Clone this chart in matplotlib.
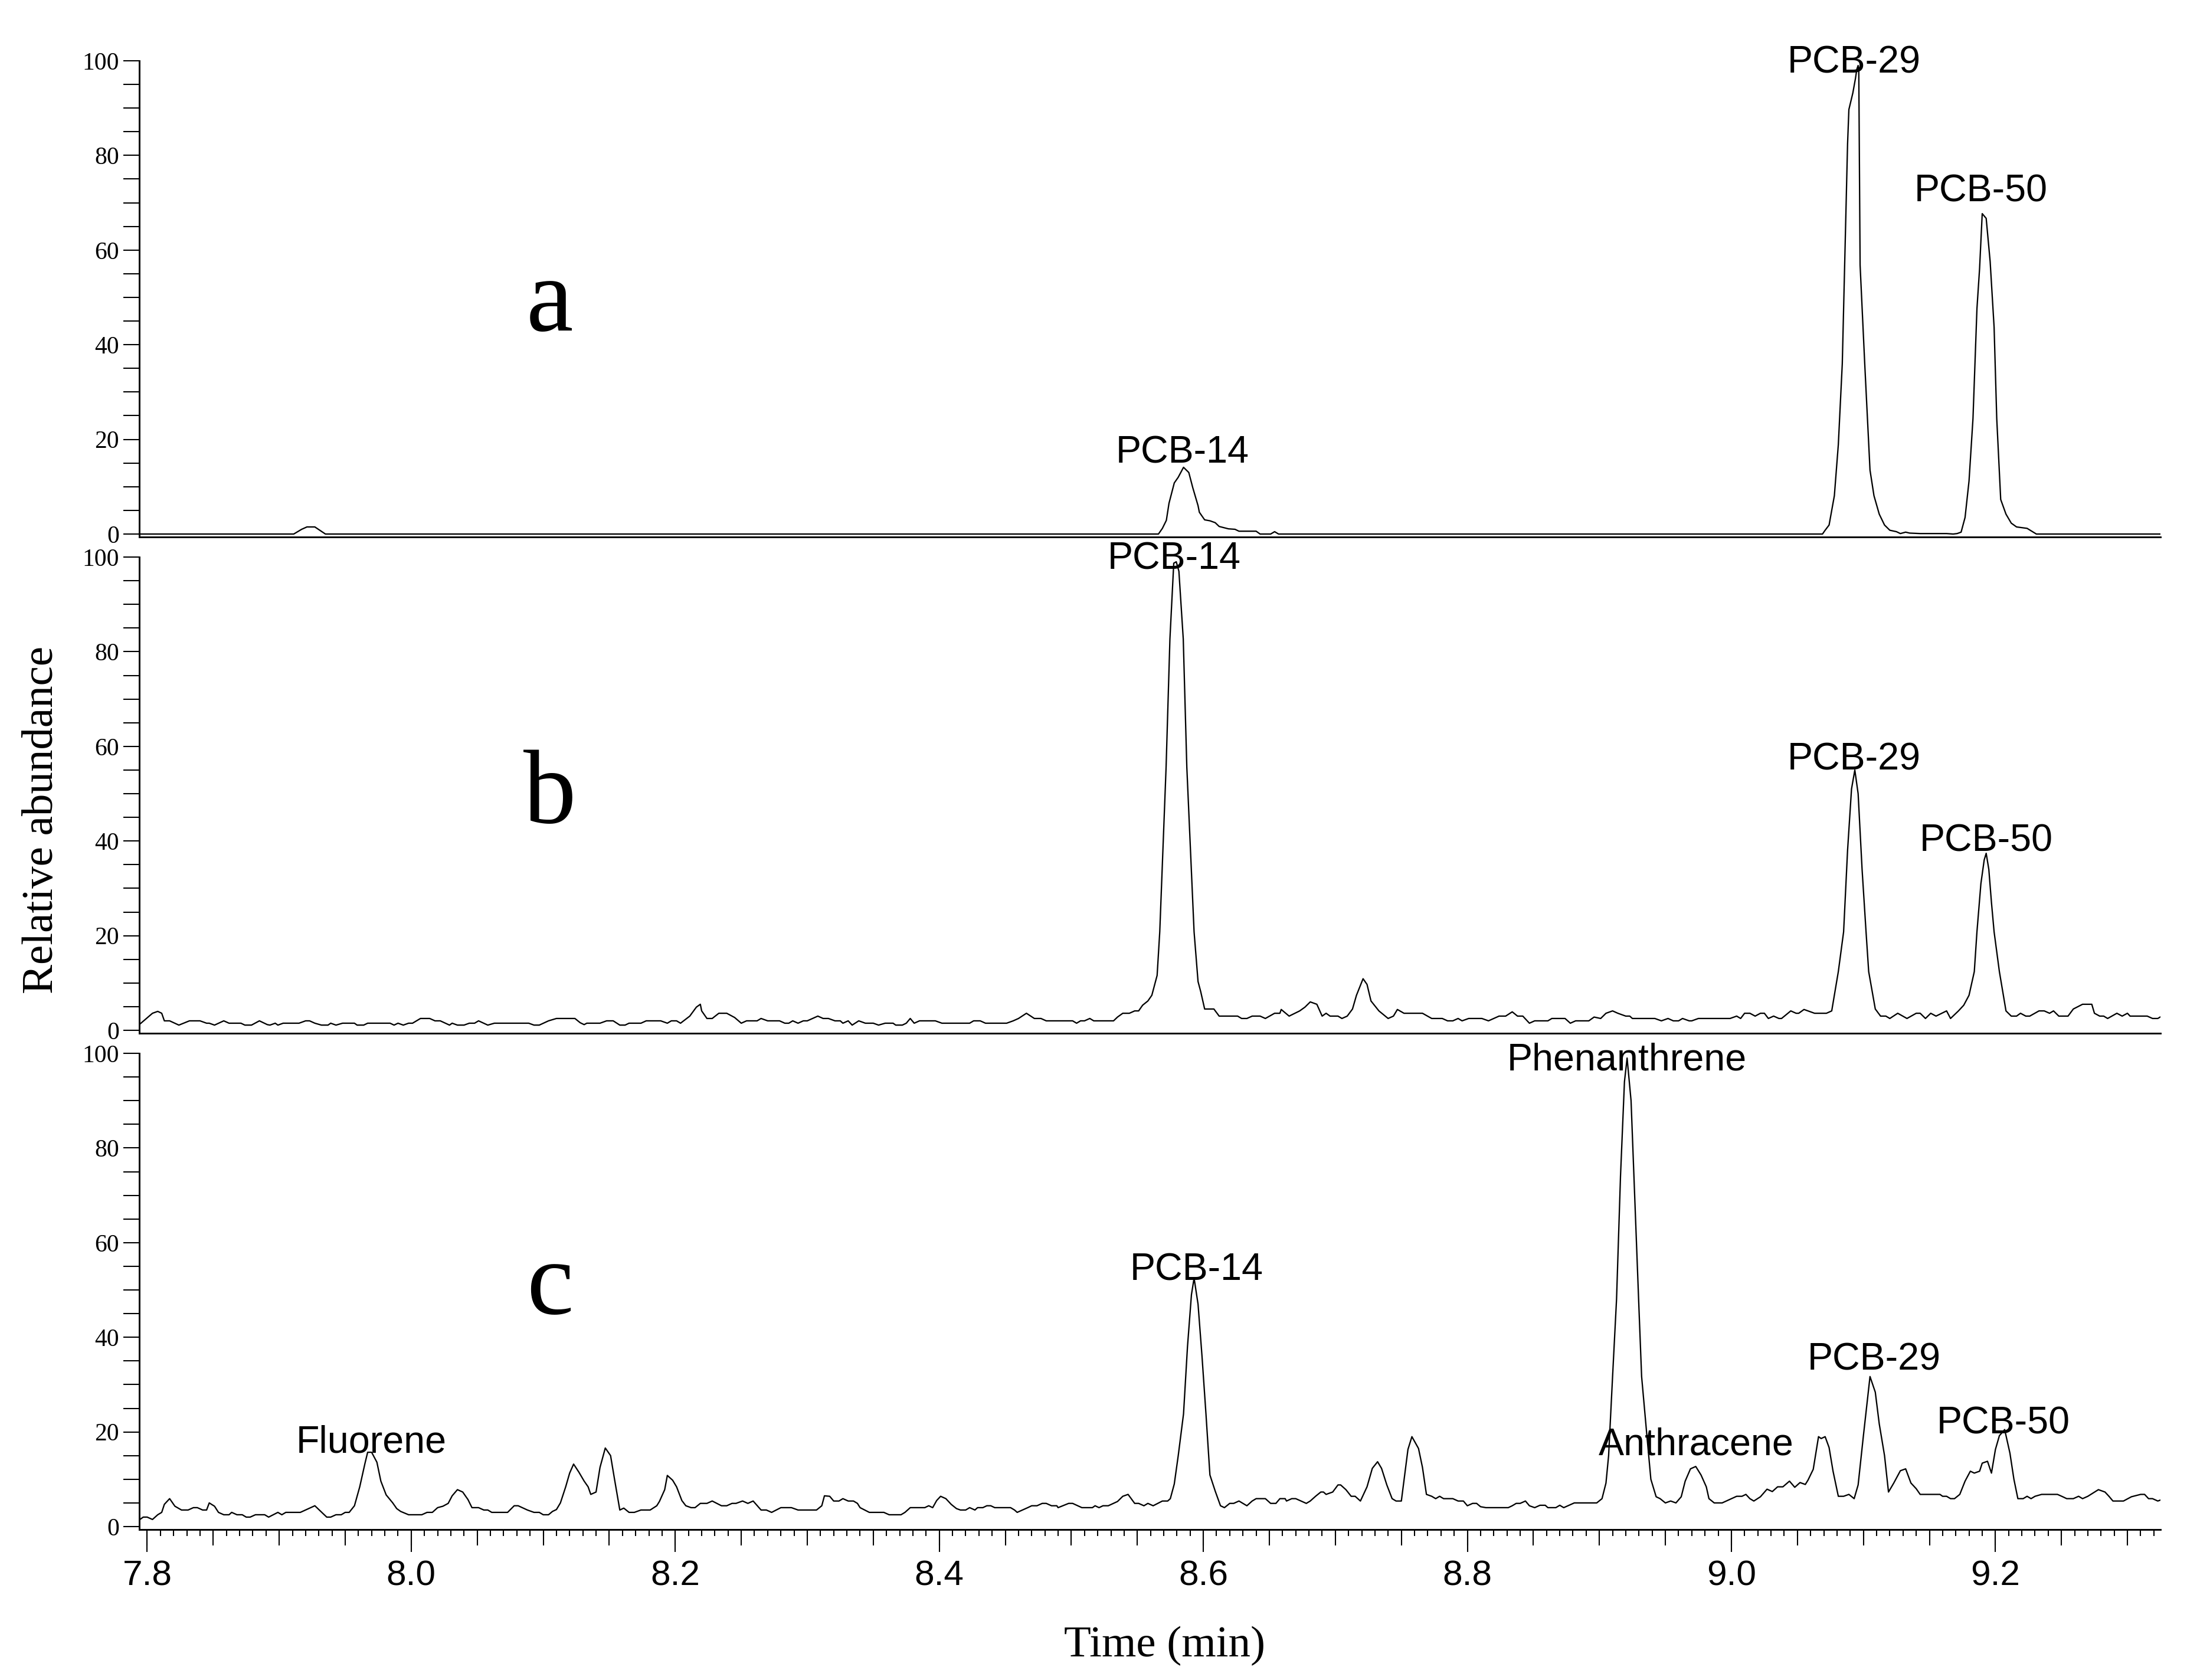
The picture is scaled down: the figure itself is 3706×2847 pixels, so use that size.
"""
Stacked GC-MS chromatograms (panels a, b, c) with labelled peaks.
"""

import matplotlib
matplotlib.use('Agg')
import matplotlib.pyplot as plt
from matplotlib.ticker import MultipleLocator, FormatStrFormatter

# ---------------------------------------------------------------- data
# panel a
a_time = [7.794, 7.911, 7.917, 7.921, 7.927, 7.935,
          8.566, 8.569, 8.572, 8.574, 8.578, 8.581, 8.585, 8.589, 8.592, 8.596,
          8.597, 8.601, 8.605, 8.609, 8.612, 8.619, 8.624, 8.627, 8.640, 8.643,
          8.651, 8.654, 8.657,
          9.069, 9.071, 9.074, 9.078, 9.081, 9.084, 9.086, 9.088, 9.089, 9.092,
          9.094, 9.095, 9.096, 9.0965, 9.0975, 9.101, 9.105, 9.108, 9.112, 9.116,
          9.120, 9.125, 9.128, 9.132, 9.135, 9.143, 9.163, 9.168, 9.171, 9.174,
          9.177, 9.180, 9.183, 9.186, 9.188, 9.190, 9.193, 9.196, 9.199, 9.201,
          9.204, 9.208, 9.212, 9.216, 9.224, 9.231, 9.325]
a_abund = [0.0, 0.0, 1.0, 1.5, 1.5, 0.0,
           0.0, 1.2, 2.9, 6.5, 10.8, 12.0, 14.1, 13.0, 9.8, 6.0,
           4.6, 3.0, 2.8, 2.4, 1.6, 1.1, 1.0, 0.6, 0.6, 0.0,
           0.0, 0.5, 0.0,
           0.0, 0.8, 1.9, 8.1, 18.9, 36.0, 59.2, 82.4, 89.7, 93.2,
           96.3, 98.2, 99.0, 97.8, 56.8, 36.0, 13.5, 8.1, 4.2, 1.9,
           0.8, 0.5, 0.1, 0.4, 0.2, 0.1, 0.1, 0.0, 0.1, 0.4,
           3.5, 11.2, 24.4, 47.6, 56.1, 67.7, 66.7, 57.6, 43.7, 24.4,
           7.3, 4.2, 2.3, 1.5, 1.2, 0.0, 0.0]

# panel b
b_time = [7.794, 7.799, 7.804, 7.808, 7.811, 7.813, 7.817, 7.824, 7.832, 7.840,
          7.845, 7.847, 7.851, 7.858, 7.862, 7.871, 7.874, 7.879, 7.885, 7.891,
          7.893, 7.897, 7.899, 7.903, 7.915, 7.920, 7.923, 7.927, 7.932, 7.937,
          7.939, 7.943, 7.948, 7.957, 7.959, 7.964, 7.967, 7.984, 7.987, 7.990,
          7.994, 7.998, 8.001, 8.007, 8.014, 8.018, 8.022, 8.029, 8.031, 8.035,
          8.040, 8.044, 8.048, 8.051, 8.058, 8.063, 8.089, 8.093, 8.097, 8.104,
          8.110, 8.124, 8.128, 8.131, 8.133, 8.143, 8.148, 8.153, 8.158, 8.162,
          8.165, 8.174, 8.178, 8.189, 8.194, 8.197, 8.201, 8.204, 8.211, 8.216,
          8.219, 8.220, 8.224, 8.228, 8.233, 8.239, 8.245, 8.250, 8.254, 8.262,
          8.265, 8.270, 8.279, 8.283, 8.286, 8.289, 8.293, 8.297, 8.300, 8.308,
          8.312, 8.316, 8.321, 8.325, 8.327, 8.331, 8.334, 8.339, 8.344, 8.350,
          8.354, 8.359, 8.365, 8.367, 8.372, 8.375, 8.378, 8.381, 8.385, 8.397,
          8.402, 8.423, 8.426, 8.431, 8.435, 8.451, 8.456, 8.460, 8.466, 8.472,
          8.477, 8.481, 8.501, 8.504, 8.507, 8.510, 8.514, 8.517, 8.532, 8.535,
          8.539, 8.544, 8.548, 8.551, 8.554, 8.558, 8.561, 8.565, 8.567, 8.5718,
          8.5747, 8.5776, 8.5795, 8.5815, 8.5848, 8.5875, 8.593, 8.596, 8.598, 8.601,
          8.608, 8.612, 8.626, 8.629, 8.633, 8.637, 8.643, 8.647, 8.654, 8.658,
          8.659, 8.665, 8.673, 8.677, 8.681, 8.686, 8.690, 8.693, 8.696, 8.702,
          8.705, 8.709, 8.713, 8.716, 8.721, 8.724, 8.727, 8.733, 8.740, 8.744,
          8.747, 8.752, 8.766, 8.773, 8.781, 8.785, 8.789, 8.793, 8.796, 8.801,
          8.811, 8.816, 8.824, 8.829, 8.834, 8.838, 8.842, 8.847, 8.851, 8.861,
          8.864, 8.874, 8.878, 8.882, 8.892, 8.896, 8.901, 8.905, 8.910, 8.914,
          8.920, 8.923, 8.925, 8.942, 8.947, 8.952, 8.956, 8.960, 8.963, 8.968,
          8.970, 8.975, 8.999, 9.004, 9.007, 9.010, 9.014, 9.018, 9.022, 9.025,
          9.028, 9.032, 9.036, 9.038, 9.045, 9.049, 9.051, 9.055, 9.063, 9.072,
          9.076, 9.078, 9.081, 9.085, 9.088, 9.091, 9.0935, 9.096, 9.099, 9.102,
          9.104, 9.109, 9.113, 9.117, 9.120, 9.126, 9.133, 9.140, 9.143, 9.147,
          9.151, 9.155, 9.163, 9.166, 9.172, 9.176, 9.180, 9.184, 9.186, 9.189,
          9.1915, 9.193, 9.195, 9.197, 9.199, 9.203, 9.206, 9.208, 9.212, 9.216,
          9.219, 9.223, 9.226, 9.233, 9.237, 9.241, 9.244, 9.248, 9.255, 9.259,
          9.266, 9.273, 9.275, 9.279, 9.282, 9.285, 9.292, 9.296, 9.300, 9.302,
          9.315, 9.319, 9.323, 9.326]
b_abund = [1.2, 2.4, 3.6, 4.0, 3.6, 2.0, 2.0, 1.1, 2.0, 2.0,
           1.5, 1.5, 1.1, 2.0, 1.5, 1.5, 1.1, 1.1, 2.0, 1.2,
           1.1, 1.5, 1.1, 1.5, 1.5, 2.0, 2.0, 1.5, 1.1, 1.1,
           1.5, 1.1, 1.5, 1.5, 1.1, 1.1, 1.5, 1.5, 1.1, 1.5,
           1.1, 1.5, 1.5, 2.5, 2.5, 2.0, 2.0, 1.1, 1.5, 1.1,
           1.1, 1.5, 1.5, 2.0, 1.1, 1.5, 1.5, 1.1, 1.1, 2.0,
           2.5, 2.5, 1.6, 1.2, 1.5, 1.5, 2.0, 2.0, 1.1, 1.1,
           1.5, 1.5, 2.0, 2.0, 1.5, 2.0, 2.0, 1.5, 3.0, 4.9,
           5.5, 4.1, 2.5, 2.5, 3.6, 3.6, 2.7, 1.5, 2.0, 2.0,
           2.5, 2.0, 2.0, 1.5, 1.5, 2.0, 1.5, 2.0, 2.0, 3.0,
           2.5, 2.5, 2.0, 2.0, 1.5, 2.0, 1.1, 2.0, 1.5, 1.5,
           1.1, 1.5, 1.5, 1.1, 1.1, 1.5, 2.5, 1.5, 2.0, 2.0,
           1.5, 1.5, 2.0, 2.0, 1.5, 1.5, 2.0, 2.5, 3.6, 2.5,
           2.5, 2.0, 2.0, 1.5, 2.0, 2.0, 2.5, 2.0, 2.0, 2.8,
           3.6, 3.6, 4.1, 4.1, 5.3, 6.2, 7.4, 11.6, 20.8, 55.6,
           82.7, 98.7, 99.0, 97.0, 82.7, 55.6, 20.8, 10.3, 8.2, 4.5,
           4.5, 3.0, 3.0, 2.5, 2.5, 3.0, 3.0, 2.5, 3.6, 3.6,
           4.4, 3.0, 4.1, 4.9, 6.0, 5.5, 3.0, 3.6, 3.0, 3.0,
           2.5, 3.0, 4.5, 7.4, 10.9, 9.7, 6.2, 4.1, 2.5, 3.0,
           4.4, 3.6, 3.6, 2.5, 2.5, 2.0, 2.0, 2.5, 2.0, 2.5,
           2.5, 2.0, 3.0, 3.0, 3.9, 3.0, 3.0, 1.5, 2.0, 2.0,
           2.5, 2.5, 1.5, 2.0, 2.0, 2.8, 2.5, 3.6, 4.1, 3.6,
           3.0, 3.0, 2.5, 2.5, 2.0, 2.5, 2.0, 2.0, 2.5, 2.0,
           2.0, 2.5, 2.5, 3.0, 2.5, 3.6, 3.6, 3.0, 3.6, 3.6,
           2.5, 3.0, 2.5, 2.5, 4.1, 3.6, 3.6, 4.4, 3.6, 3.6,
           4.1, 7.4, 12.4, 20.8, 38.0, 51.0, 55.0, 50.0, 34.0, 20.8,
           12.4, 4.5, 3.0, 3.0, 2.5, 3.6, 2.5, 3.6, 3.6, 2.5,
           3.6, 3.0, 4.1, 2.5, 4.1, 5.3, 7.4, 12.4, 20.8, 31.0,
           36.0, 37.4, 34.0, 27.0, 20.8, 12.4, 7.4, 4.1, 3.0, 3.0,
           3.6, 3.0, 3.0, 4.1, 4.1, 3.6, 4.1, 3.0, 3.0, 4.5,
           5.5, 5.5, 3.6, 3.0, 3.0, 2.5, 3.6, 3.0, 3.6, 3.0,
           3.0, 2.5, 2.5, 3.0]

# panel c
c_time = [7.794, 7.797, 7.800, 7.804, 7.808, 7.811, 7.813, 7.817, 7.821, 7.826,
          7.831, 7.835, 7.838, 7.842, 7.845, 7.847, 7.851, 7.854, 7.858, 7.862,
          7.864, 7.868, 7.872, 7.875, 7.878, 7.882, 7.889, 7.892, 7.899, 7.902,
          7.905, 7.916, 7.927, 7.936, 7.939, 7.943, 7.947, 7.950, 7.953, 7.957,
          7.961, 7.965, 7.967, 7.970, 7.974, 7.977, 7.981, 7.986, 7.989, 7.992,
          7.998, 8.008, 8.012, 8.016, 8.020, 8.024, 8.028, 8.031, 8.035, 8.039,
          8.043, 8.046, 8.051, 8.055, 8.058, 8.061, 8.073, 8.078, 8.081, 8.088,
          8.093, 8.097, 8.100, 8.104, 8.107, 8.110, 8.113, 8.117, 8.120, 8.123,
          8.127, 8.131, 8.134, 8.136, 8.140, 8.143, 8.147, 8.151, 8.154, 8.158,
          8.161, 8.165, 8.169, 8.174, 8.181, 8.186, 8.188, 8.192, 8.194, 8.198,
          8.201, 8.205, 8.208, 8.212, 8.215, 8.219, 8.224, 8.228, 8.235, 8.239,
          8.243, 8.246, 8.251, 8.255, 8.259, 8.265, 8.269, 8.273, 8.280, 8.288,
          8.293, 8.307, 8.311, 8.313,
          8.317, 8.320, 8.324, 8.327, 8.331, 8.335, 8.338, 8.340, 8.347, 8.358,
          8.362, 8.371, 8.374, 8.378, 8.389, 8.392, 8.395, 8.398, 8.401, 8.405,
          8.409, 8.413, 8.416, 8.420, 8.423, 8.427, 8.429, 8.433, 8.436, 8.439,
          8.442, 8.454, 8.457, 8.459, 8.467, 8.470, 8.474, 8.478, 8.481, 8.485,
          8.489, 8.490, 8.498, 8.501, 8.508, 8.516, 8.518, 8.521, 8.524, 8.528,
          8.535, 8.539, 8.543, 8.548, 8.551, 8.555, 8.558, 8.562, 8.569, 8.573,
          8.575, 8.578, 8.581, 8.585, 8.588, 8.591, 8.593, 8.596, 8.599, 8.602,
          8.605, 8.609, 8.613, 8.616, 8.620, 8.623, 8.627, 8.630, 8.633, 8.637,
          8.640, 8.647, 8.651, 8.655, 8.658, 8.662, 8.663, 8.667, 8.670, 8.678,
          8.681, 8.685, 8.689, 8.691, 8.693, 8.698, 8.702, 8.704, 8.708, 8.712,
          8.715, 8.719, 8.724, 8.728, 8.732, 8.735, 8.739, 8.743, 8.746, 8.750,
          8.755, 8.758, 8.763, 8.766, 8.769, 8.773, 8.776, 8.779, 8.782, 8.789,
          8.793, 8.797, 8.800, 8.804, 8.807, 8.810, 8.814, 8.831, 8.834, 8.837,
          8.840, 8.844, 8.847, 8.851,
          8.855, 8.859, 8.861, 8.867, 8.870, 8.873, 8.881, 8.898, 8.902, 8.905,
          8.907, 8.910, 8.913, 8.916, 8.919, 8.921, 8.924, 8.927, 8.930, 8.932,
          8.936, 8.939, 8.943, 8.946, 8.950, 8.954, 8.958, 8.962, 8.965, 8.969,
          8.973, 8.977, 8.981, 8.983, 8.987, 8.993, 9.000, 9.004, 9.008, 9.011,
          9.014, 9.017, 9.022, 9.027, 9.031, 9.035, 9.039, 9.044, 9.048, 9.052,
          9.056, 9.058, 9.062, 9.066, 9.068, 9.071, 9.074, 9.077, 9.081, 9.085,
          9.089, 9.093, 9.096, 9.100, 9.105, 9.109, 9.112, 9.116, 9.119, 9.123,
          9.128, 9.132, 9.136, 9.140, 9.143, 9.158, 9.160, 9.163, 9.166, 9.169,
          9.173, 9.177, 9.181, 9.184, 9.188, 9.190, 9.194, 9.197, 9.200, 9.203,
          9.207, 9.211, 9.214, 9.217, 9.221, 9.224, 9.227, 9.230, 9.235, 9.247,
          9.251, 9.254, 9.259, 9.263, 9.266, 9.270, 9.274, 9.278, 9.283, 9.286,
          9.289, 9.297, 9.303, 9.310, 9.313, 9.316, 9.319, 9.323, 9.326]
c_abund = [1.4, 2.0, 2.0, 1.5, 2.5, 3.0, 4.7, 5.9, 4.3, 3.5,
           3.5, 4.0, 4.0, 3.5, 3.5, 5.0, 4.3, 3.0, 2.5, 2.5,
           3.0, 2.5, 2.5, 2.0, 2.0, 2.5, 2.5, 2.0, 3.0, 2.5,
           3.0, 3.0, 4.4, 2.0, 2.0, 2.5, 2.5, 3.0, 3.0, 4.4,
           8.4, 13.4, 15.7, 15.7, 13.6, 9.6, 6.7, 5.0, 3.8, 3.2,
           2.5, 2.5, 3.0, 3.0, 4.0, 4.3, 4.9, 6.5, 7.8, 7.3,
           5.7, 4.0, 4.0, 3.5, 3.5, 3.0, 3.0, 4.4, 4.4, 3.5,
           3.0, 3.0, 2.5, 2.5, 3.2, 3.6, 5.0, 8.4, 11.3, 13.2,
           11.5, 9.6, 8.4, 6.8, 7.3, 12.5, 16.6, 15.0, 10.0, 3.5,
           3.9, 3.0, 3.0, 3.5, 3.5, 4.4, 5.3, 7.8, 10.8, 9.8,
           8.4, 5.5, 4.4, 4.0, 4.0, 4.9, 4.9, 5.4, 4.4, 4.4,
           4.9, 4.9, 5.4, 4.9, 5.4, 3.5, 3.5, 3.0, 4.0, 4.0,
           3.5, 3.5, 4.4, 6.5,
           6.4, 5.4, 5.4, 5.9, 5.4, 5.4, 4.9, 4.0, 3.0, 3.0,
           2.5, 2.5, 3.0, 4.0, 4.0, 4.4, 4.0, 5.5, 6.4, 5.9,
           4.7, 3.8, 3.5, 3.5, 4.0, 3.5, 4.0, 4.0, 4.4, 4.4,
           4.0, 4.0, 3.5, 3.0, 4.0, 4.4, 4.4, 4.9, 4.9, 4.4,
           4.4, 4.0, 4.9, 4.9, 4.0, 4.0, 4.4, 4.0, 4.4, 4.4,
           5.3, 6.4, 6.8, 4.9, 4.9, 4.4, 4.9, 4.4, 5.4, 5.4,
           5.9, 9.0, 15.0, 23.8, 38.0, 49.0, 52.5, 47.0, 36.0, 23.8,
           10.9, 7.5, 4.4, 4.0, 4.9, 4.9, 5.4, 4.9, 4.4, 5.4,
           5.9, 5.9, 4.9, 4.9, 5.9, 5.9, 5.4, 5.9, 5.9, 4.9,
           5.4, 6.4, 7.3, 7.3, 6.8, 7.3, 8.8, 8.8, 7.8, 6.4,
           6.4, 5.4, 8.4, 12.3, 13.7, 12.3, 8.8, 5.9, 5.4, 5.4,
           16.3, 19.0, 16.5, 12.5, 6.8, 6.4, 5.9, 6.4, 5.9, 5.9,
           5.4, 5.4, 4.4, 4.9, 4.9, 4.2, 4.0, 4.0, 4.4, 4.9,
           4.9, 5.4, 4.4, 4.0,
           4.5, 4.5, 4.0, 4.0, 4.5, 4.0, 5.0, 5.0, 5.9, 9.2,
           15.0, 31.7, 48.0, 74.0, 94.0, 99.0, 90.0, 68.0, 46.0, 31.7,
           19.2, 10.0, 6.3, 5.9, 5.0, 5.4, 5.0, 6.3, 9.6, 12.2,
           12.7, 10.9, 8.4, 5.9, 5.0, 5.0, 5.9, 6.4, 6.4, 6.8,
           5.9, 5.4, 6.3, 7.9, 7.4, 8.4, 8.4, 9.6, 8.3, 9.3,
           8.9, 9.8, 12.1, 19.0, 18.6, 19.0, 16.7, 11.7, 6.4, 6.4,
           6.8, 5.9, 8.8, 19.2, 31.7, 28.4, 21.7, 15.0, 7.3, 9.2,
           11.8, 12.2, 9.2, 8.0, 6.8, 6.8, 6.4, 6.4, 5.9, 5.9,
           6.8, 9.6, 11.7, 11.3, 11.7, 13.4, 13.8, 11.3, 16.3, 19.2,
           20.5, 15.5, 10.0, 5.9, 5.9, 6.4, 5.9, 6.4, 6.8, 6.8,
           6.3, 5.9, 5.9, 6.4, 5.9, 6.4, 7.1, 7.8, 7.3, 6.4,
           5.4, 5.4, 6.3, 6.8, 6.8, 5.9, 5.9, 5.4, 5.7]

# peak labels: (text, time, abundance at text baseline)
a_labels = [('PCB-14', 8.584, 15.0), ('PCB-29', 9.093, 97.4), ('PCB-50', 9.189, 70.2)]
b_labels = [('PCB-14', 8.578, 97.5), ('PCB-29', 9.093, 55.0), ('PCB-50', 9.193, 37.9)]
c_labels = [('Fluorene', 7.970, 15.6), ('PCB-14', 8.595, 52.0),
            ('Phenanthrene', 8.921, 96.5), ('Anthracene', 8.9735, 15.2),
            ('PCB-29', 9.108, 33.1), ('PCB-50', 9.206, 19.6)]
panel_letters = ['a', 'b', 'c']
letter_pos = [(8.105, 43.0), (8.105, 43.9), (8.105, 45.0)]

# ---------------------------------------------------------------- style
SERIF = 'Liberation Serif'
SANS = 'Liberation Sans'

W, H, DPI = 3706, 2847, 300
XLIM = (7.794, 9.325)
YMIN = -0.6
PX_PER_UNIT = 8.02
AX_LEFT, AX_RIGHT = 236, 3661
panel_tops = [103, 944, 1785]


def add_panel(fig, top_px, time, abund, labels, letter, letter_xy, show_x):
    bottom_px = top_px + (100 - YMIN) * PX_PER_UNIT
    ax = fig.add_axes([AX_LEFT / W, 1 - bottom_px / H,
                       (AX_RIGHT - AX_LEFT) / W, (bottom_px - top_px) / H])
    ax.plot(time, abund, color='black', lw=0.55)
    ax.set_xlim(XLIM)
    ax.set_ylim(YMIN, 100)

    for side in ('top', 'right'):
        ax.spines[side].set_visible(False)
    for side in ('left', 'bottom'):
        ax.spines[side].set_linewidth(0.7)

    ax.yaxis.set_major_locator(MultipleLocator(20))
    ax.yaxis.set_minor_locator(MultipleLocator(5))
    ax.tick_params(axis='y', which='both', direction='out', length=6.5, width=0.5)
    ax.tick_params(axis='y', which='major', labelsize=10, pad=1.7,
                   labelfontfamily=SERIF)

    if show_x:
        ax.xaxis.set_major_locator(MultipleLocator(0.2))
        ax.xaxis.set_minor_locator(MultipleLocator(0.01))
        ax.xaxis.set_major_formatter(FormatStrFormatter('%.1f'))
        ax.tick_params(axis='x', which='major', direction='out', length=9.1,
                       width=0.5, labelsize=14.5, pad=3.2, labelfontfamily=SANS)
        ax.tick_params(axis='x', which='minor', direction='out', length=2.6,
                       width=0.5)
        # intermediate ticks every 0.05 min
        mid = ax.secondary_xaxis('bottom')
        mid.xaxis.set_major_locator(MultipleLocator(0.05))
        mid.tick_params(axis='x', direction='out', length=6.5, width=0.5,
                        labelbottom=False)
        mid.spines['bottom'].set_visible(False)
    else:
        ax.tick_params(axis='x', which='both', bottom=False, labelbottom=False)

    for text, t, v in labels:
        ax.text(t, v, text, ha='center', va='baseline', fontsize=15.5,
                family=SANS)
    ax.text(letter_xy[0], letter_xy[1], letter, ha='center', va='baseline',
            fontsize=43, family=SERIF)
    return ax


fig = plt.figure(figsize=(W / DPI, H / DPI), dpi=DPI)
panels = [(a_time, a_abund, a_labels), (b_time, b_abund, b_labels),
          (c_time, c_abund, c_labels)]
for i, (time, abund, labels) in enumerate(panels):
    add_panel(fig, panel_tops[i], time, abund, labels, panel_letters[i],
              letter_pos[i], show_x=(i == 2))

fig.text(71 / W, 1 - 1389 / H, 'Relative abundance', rotation=90,
         ha='center', va='center', fontsize=18, family=SERIF)
fig.text(1973 / W, 1 - 2789 / H, 'Time (min)', ha='center', va='center',
         fontsize=18, family=SERIF)

fig.savefig('out.png', dpi=DPI)
plt.close(fig)
